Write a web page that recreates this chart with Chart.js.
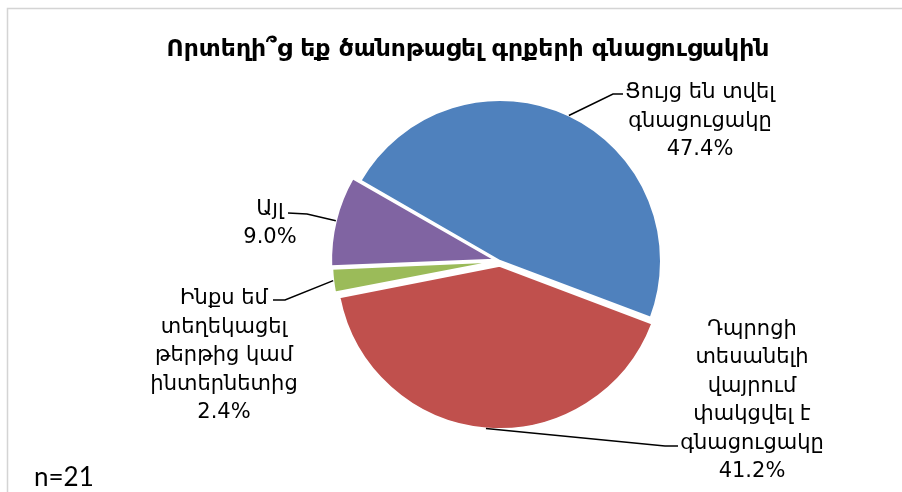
<!DOCTYPE html>
<html><head><meta charset="utf-8">
<script src="https://cdn.jsdelivr.net/npm/chart.js@4.4.1/dist/chart.umd.min.js"></script>
<style>html,body{margin:0;padding:0;background:#fff;} #wrap{width:902px;height:492px;position:relative;}</style>
</head><body><div id="wrap"><canvas id="c" width="902" height="492"></canvas></div>
<script>
// ---- data ----
const categories = [
  ['Ցույց են տվել', 'գնացուցակը'],
  ['Դպրոցի', 'տեսանելի', 'վայրում', 'փակցվել է', 'գնացուցակը'],
  ['Ինքս եմ', 'տեղեկացել', 'թերթից կամ', 'ինտերնետից'],
  ['Այլ']
];
const shares = [47.4, 41.2, 2.4, 9.0];
const sliceColors = ['#4F81BD', '#C0504D', '#9BBB59', '#8064A2'];
const titleText = 'Որտեղի՞ց եք ծանոթացել գրքերի գնացուցակին';
const noteText = 'n=21';

// ---- label layout (positions only) ----
const labelLayout = [
  {cx: 700, last: 155, elbow: [613, 94],  end: [623, 94]},
  {cx: 752, last: 477, elbow: [665, 446], end: [678, 446]},
  {cx: 224, last: 418, elbow: [285, 300], end: [273, 300]},
  {cx: 270, last: 243, elbow: [307, 214], end: [288, 213]}
];
const LINE_H = 28.5;
const LABEL_FONT = '21px "DejaVu Sans"';

const decor = {
  id: 'decor',
  beforeDraw(chart) {
    const ctx = chart.ctx;
    ctx.save();
    ctx.fillStyle = '#fff';
    ctx.fillRect(0, 0, chart.width, chart.height);
    ctx.strokeStyle = '#d4d4d4';
    ctx.lineWidth = 1.5;
    ctx.beginPath();
    ctx.moveTo(907, 8.5);
    ctx.lineTo(7.5, 8.5);
    ctx.lineTo(7.5, 500);
    ctx.stroke();
    ctx.fillStyle = '#000';
    ctx.font = 'bold 23.5px "DejaVu Sans"';
    ctx.textAlign = 'center';
    ctx.textBaseline = 'alphabetic';
    ctx.fillText(titleText, 468, 56);
    ctx.font = '26px Lato';
    ctx.textAlign = 'left';
    ctx.fillText(noteText, 34, 486);
    ctx.restore();
  },
  afterDatasetsDraw(chart) {
    const ctx = chart.ctx;
    const meta = chart.getDatasetMeta(0);
    ctx.save();
    meta.data.forEach((arc, i) => {
      const p = arc.getProps(['x', 'y', 'startAngle', 'endAngle', 'outerRadius', 'circumference'], true);
      const off = (arc.options.offset || 0) / 4;
      const mid = (p.startAngle + p.endAngle) / 2;
      const fix = 1 - Math.sin(Math.min(Math.PI, p.circumference || 0));
      const shift = off + off * fix;
      const ax = p.x + Math.cos(mid) * (shift + p.outerRadius);
      const ay = p.y + Math.sin(mid) * (shift + p.outerRadius);
      const L = labelLayout[i];
      ctx.strokeStyle = '#000';
      ctx.lineWidth = 1.5;
      ctx.beginPath();
      ctx.moveTo(ax, ay);
      ctx.lineTo(L.elbow[0], L.elbow[1]);
      ctx.lineTo(L.end[0], L.end[1]);
      ctx.stroke();
      const lines = categories[i].concat([shares[i].toFixed(1) + '%']);
      ctx.fillStyle = '#000';
      ctx.font = LABEL_FONT;
      ctx.textAlign = 'center';
      ctx.textBaseline = 'alphabetic';
      const n = lines.length;
      lines.forEach((t, k) => {
        ctx.fillText(t, L.cx, L.last - (n - 1 - k) * LINE_H);
      });
    });
    ctx.restore();
  }
};

new Chart(document.getElementById('c'), {
  type: 'pie',
  data: {
    labels: categories.map(l => l.join(' ')),
    datasets: [{
      data: shares,
      backgroundColor: sliceColors,
      borderColor: '#ffffff',
      borderWidth: 2,
      offset: [0, 19, 15, 22]
    }]
  },
  options: {
    responsive: false,
    animation: false,
    events: [],
    rotation: -60,
    radius: 161,
    layout: {padding: {left: 300, right: 202, top: 81, bottom: 51}},
    plugins: {legend: {display: false}, title: {display: false}, tooltip: {enabled: false}}
  },
  plugins: [decor]
});
</script>
</body></html>
